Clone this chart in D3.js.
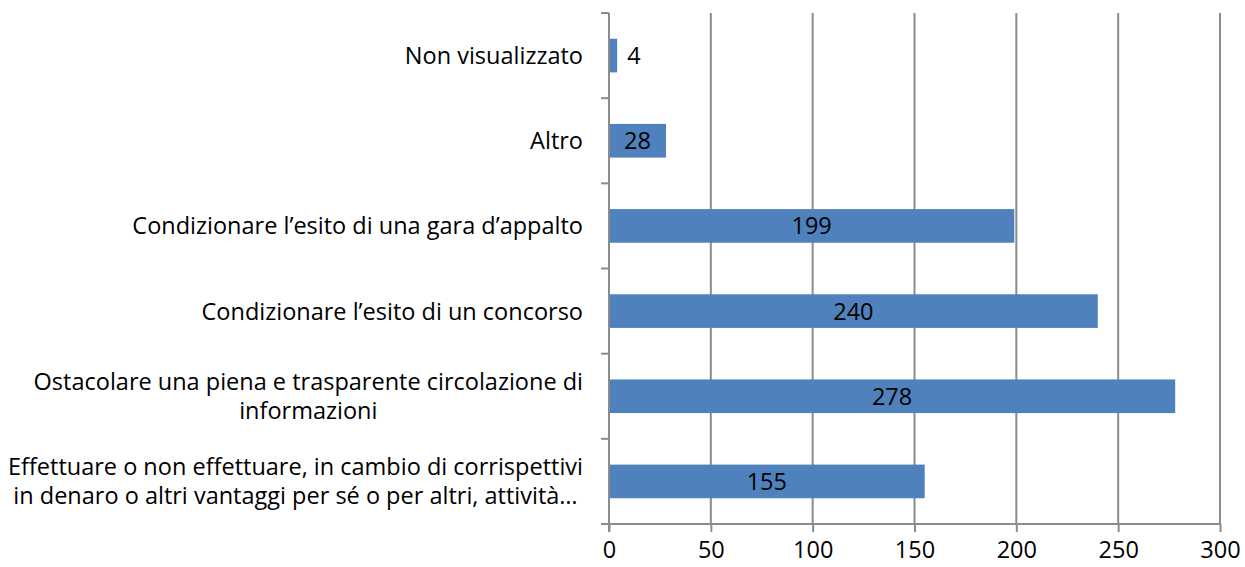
<!DOCTYPE html>
<html>
<head>
<meta charset="utf-8">
<script src="https://cdn.jsdelivr.net/npm/d3@7"></script>
<style>
  body { margin: 0; background: #fff; }
  text { font-family: "Open Sans", sans-serif; fill: #000; }
</style>
</head>
<body>
<script>
const canvWidth = 1245, canvHeight = 567;
const margin = {top: 13, right: 25, bottom: 43, left: 609};

// categories from top to bottom, each label split in lines
const categories = [
    ["Non visualizzato"],
    ["Altro"],
    ["Condizionare l\u2019esito di una gara d\u2019appalto"],
    ["Condizionare l\u2019esito di un concorso"],
    ["Ostacolare una piena e trasparente circolazione di", "informazioni"],
    ["Effettuare o non effettuare, in cambio di corrispettivi", "in denaro o altri vantaggi per s\u00e9 o per altri, attivit\u00e0\u2026"]
];
const values = [4, 28, 199, 240, 278, 155];
const xTicks = [0, 50, 100, 150, 200, 250, 300];

const width = canvWidth - margin.left - margin.right;
const height = canvHeight - margin.top - margin.bottom;
const fontSize = "23.5px";

const svg = d3.select("body").append("svg")
    .attr("width", canvWidth)
    .attr("height", canvHeight);

const g = svg.append("g")
    .attr("transform", `translate(${margin.left},${margin.top})`);

const xScale = d3.scaleLinear().domain([0, 300]).range([0, 611]);
const yScale = d3.scaleBand().domain(d3.range(categories.length))
    .range([0, height]).paddingInner(0.605).paddingOuter(0.3025);

const gridColor = "#8c8c8c";

// vertical gridlines
g.selectAll("line.grid")
    .data(xTicks.slice(1))
    .enter().append("line")
    .attr("class", "grid")
    .attr("x1", d => xScale(d)).attr("x2", d => xScale(d))
    .attr("y1", 0).attr("y2", height)
    .attr("stroke", gridColor).attr("stroke-width", 2);

// bars
g.selectAll("rect")
    .data(values)
    .enter().append("rect")
    .attr("x", xScale(0))
    .attr("y", (d, i) => yScale(i))
    .attr("width", d => xScale(d) - xScale(0))
    .attr("height", yScale.bandwidth())
    .attr("fill", "#4f81bd");

// value labels
g.selectAll("text.val")
    .data(values)
    .enter().append("text")
    .attr("class", "val")
    .attr("x", d => d < 10 ? xScale(d) + 10 : xScale(d / 2))
    .attr("y", (d, i) => yScale(i) + yScale.bandwidth() / 2)
    .attr("dy", "0.36em")
    .attr("text-anchor", d => d < 10 ? "start" : "middle")
    .attr("font-size", fontSize)
    .text(d => d);

// x axis
const xAxis = d3.axisBottom(xScale).tickValues(xTicks).tickSize(8).tickPadding(9);
const xg = g.append("g")
    .attr("transform", `translate(0,${height})`)
    .call(xAxis);
xg.select(".domain").attr("stroke", gridColor).attr("stroke-width", 2)
    .attr("d", `M${xScale(0)},0H${xScale(300)}`);
xg.selectAll(".tick line").attr("stroke", gridColor).attr("stroke-width", 2);
xg.selectAll(".tick text").attr("font-size", fontSize).attr("font-family", null);

// y axis with category ticks at band boundaries
const yAxis = g.append("g");
yAxis.append("line")
    .attr("x1", 0).attr("x2", 0).attr("y1", 0).attr("y2", height + 8)
    .attr("stroke", gridColor).attr("stroke-width", 2);
yAxis.selectAll("line.tick")
    .data(d3.range(categories.length + 1))
    .enter().append("line")
    .attr("class", "tick")
    .attr("x1", -8).attr("x2", 0)
    .attr("y1", i => i * height / categories.length)
    .attr("y2", i => i * height / categories.length)
    .attr("stroke", gridColor).attr("stroke-width", 2);

// category labels, right aligned block with centred lines
const lineH = 29;
categories.forEach((lines, i) => {
    const cy = yScale(i) + yScale.bandwidth() / 2;
    const t = g.append("text")
        .attr("font-size", fontSize)
        .attr("text-anchor", "middle");
    lines.forEach((l, j) => {
        t.append("tspan")
            .attr("x", 0)
            .attr("y", cy + (j - (lines.length - 1) / 2) * lineH)
            .attr("dy", "0.36em")
            .text(l);
    });
    const w = t.node().getBBox().width;
    t.attr("transform", `translate(${-26 - w / 2},0)`);
});
</script>
</body>
</html>
